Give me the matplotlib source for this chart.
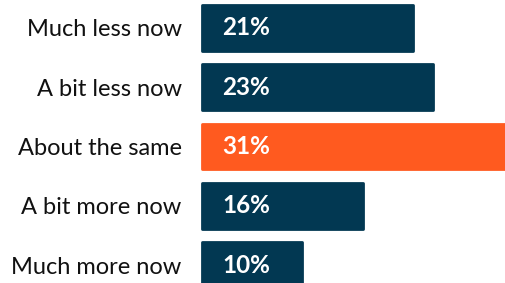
import matplotlib.pyplot as plt

# answers and share of respondents
categories = ["Much less now", "A bit less now", "About the same", "A bit more now", "Much more now"]
values = [21, 23, 31, 16, 10]
highlight = "About the same"

navy = "#023852"
orange = "#FF5A1F"

plt.rcParams['font.family'] = ['Lato', 'DejaVu Sans']

fig = plt.figure(figsize=(5.06, 2.83), dpi=100)
ax = fig.add_axes([201 / 506, 0, 305 / 506, 1])

colors = [orange if c == highlight else navy for c in categories]
ypos = list(range(len(categories)))
ax.barh(ypos, values, height=0.77, color=colors, edgecolor=colors,
        linewidth=2, joinstyle='round')

for y, v in zip(ypos, values):
    ax.text(2.0, y, f"{v}%", color="white", fontsize=17.5, fontweight="bold",
            ha="left", va="center")

ax.set_xlim(-0.1, 30.3)
ax.set_ylim(4.3, -0.472)
ax.set_yticks(ypos)
ax.set_yticklabels(categories, fontsize=17, color="#111111")
ax.tick_params(axis="y", length=0, pad=14)
ax.set_xticks([])
for s in ax.spines.values():
    s.set_visible(False)

fig.savefig("out.png", dpi=100)
